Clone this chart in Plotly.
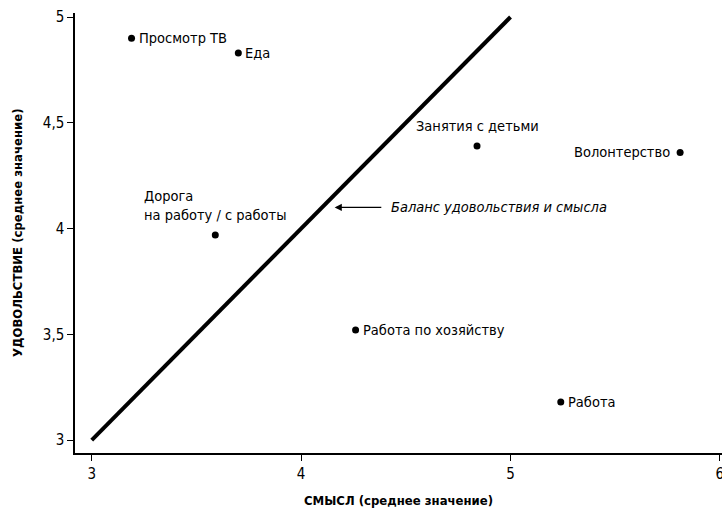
import plotly.graph_objects as go

activities = ["Просмотр ТВ", "Еда", "Дорога<br>на работу / с работы", "Занятия с детьми",
              "Волонтерство", "Работа по хозяйству", "Работа"]
meaning = [3.19, 3.70, 3.59, 4.84, 5.81, 4.26, 5.24]
pleasure = [4.90, 4.83, 3.97, 4.39, 4.36, 3.52, 3.18]
label_pos = ["right", "right", "above", "above", "left", "right", "right"]

balance_x = [3, 5]
balance_y = [3, 5]

x_ticks = [3, 4, 5, 6]
y_ticks = [3, 3.5, 4, 4.5, 5]

x_title = "<b>СМЫСЛ (среднее значение)</b>"
y_title = "<b>УДОВОЛЬСТВИЕ (среднее значение)</b>"

FONT = "Liberation Sans Narrow, DejaVu Sans Condensed, Arial Narrow, sans-serif"

fig = go.Figure()
fig.add_trace(go.Scatter(x=balance_x, y=balance_y, mode="lines",
                         line=dict(color="black", width=4), hoverinfo="skip"))
fig.add_trace(go.Scatter(x=meaning, y=pleasure, mode="markers",
                         marker=dict(color="black", size=7), hoverinfo="skip"))

for name, mx, py, pos in zip(activities, meaning, pleasure, label_pos):
    if pos == "right":
        fig.add_annotation(x=mx, y=py, text=name, showarrow=False, xanchor="left",
                           yanchor="middle", xshift=5)
    elif pos == "left":
        fig.add_annotation(x=mx, y=py, text=name, showarrow=False, xanchor="right",
                           yanchor="middle", xshift=-8)
    else:
        fig.add_annotation(x=mx, y=py, text=name, showarrow=False, xanchor="center",
                           yanchor="bottom", yshift=10, align="left")

fig.add_annotation(x=4.16, y=4.10, ax=4.39, ay=4.10, axref="x", ayref="y",
                   text="", showarrow=True, arrowhead=2, arrowsize=1.2, arrowwidth=1.2,
                   arrowcolor="black")
fig.add_annotation(x=4.42, y=4.10, text="<i>Баланс удовольствия и смысла</i>", showarrow=False,
                   xanchor="left", yanchor="middle")

# axis titles
fig.add_annotation(xref="paper", yref="paper", x=0.5, y=0, yshift=-47, text=x_title,
                   showarrow=False, xanchor="center", yanchor="middle", font=dict(size=13))
fig.add_annotation(xref="paper", yref="paper", x=0, y=0.5, xshift=-58, text=y_title,
                   textangle=-90, showarrow=False, xanchor="center", yanchor="middle",
                   font=dict(size=13))

fig.update_layout(
    width=722, height=520,
    margin=dict(l=75, r=0, t=13, b=67),
    paper_bgcolor="white", plot_bgcolor="white",
    showlegend=False,
    separators=", ",
    font=dict(family=FONT, size=14.5, color="black"),
)
fig.update_xaxes(range=[2.92, 6.01], tickvals=x_ticks, showgrid=False, zeroline=False,
                 showline=True, linecolor="black", linewidth=1.5, ticks="outside",
                 ticklen=6, tickcolor="black", automargin=False, ticklabeloverflow="allow",
                 tickfont=dict(size=15))
fig.update_yaxes(range=[2.939, 5.019], tickvals=y_ticks, showgrid=False, zeroline=False,
                 showline=True, linecolor="black", linewidth=1.5, ticks="outside",
                 ticklen=6, tickcolor="black", automargin=False, tickfont=dict(size=15))

fig.write_html("out.html", config={"displayModeBar": False},
               post_script="document.body.style.margin='0';document.body.style.overflow='hidden';")
